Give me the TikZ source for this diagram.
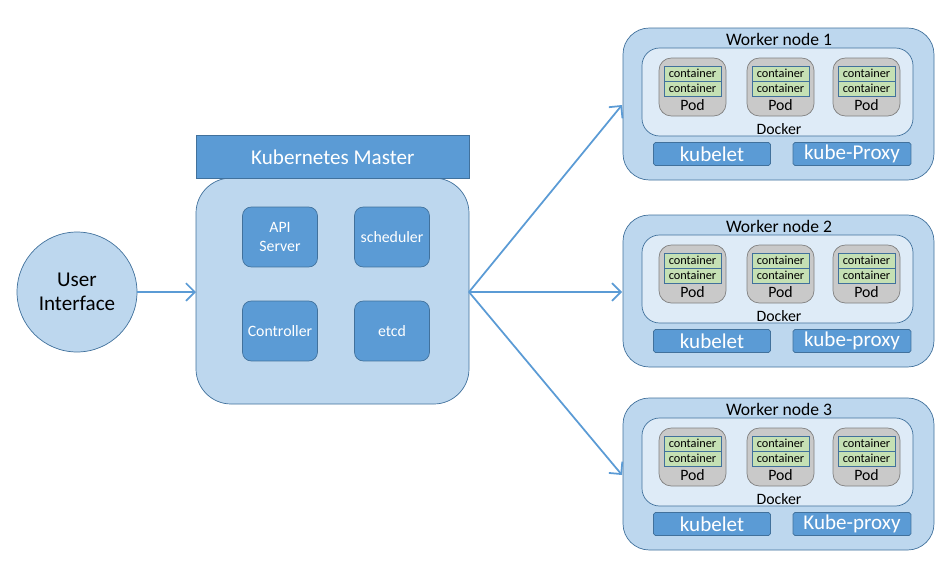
\documentclass[tikz,border=0pt]{standalone}
\usepackage{fontspec}
\setmainfont{Carlito}
\usetikzlibrary{arrows.meta,positioning}
\definecolor{darkblue}{HTML}{5B9BD5}
\definecolor{lightblue}{HTML}{BDD7EE}
\definecolor{paleblue}{HTML}{DEEBF7}
\definecolor{edgeblue}{HTML}{41719C}
\definecolor{podgray}{HTML}{C9C9C9}
\definecolor{cgreen}{HTML}{C5E0B4}
\tikzset{
  box/.style={draw=edgeblue,fill=darkblue,text=white,rounded corners=5pt,inner sep=0pt},
  panel/.style={draw=edgeblue,fill=lightblue,rounded corners=15pt},
  link/.style={-{Straight Barb[length=5pt]},color=darkblue,line width=1pt},
}
\begin{document}
\begin{tikzpicture}[x=0.02cm,y=-0.02cm]
\useasboundingbox (0,0) rectangle (951,575);

% user interface
\node[circle,draw=edgeblue,fill=lightblue,minimum size=2.4cm,align=center,font=\large] (ui) at (77,292) {User\\Interface};

% master
\draw[panel,rounded corners=20pt] (196,178) rectangle (469,404);
\node[draw=edgeblue,fill=darkblue,text=white,minimum width=5.46cm,minimum height=0.86cm,anchor=north west,font=\large] (master) at (196,135) {Kubernetes Master};
\node[box,minimum width=1.5cm,minimum height=1.2cm,align=center,font=\small] (api) at (280,237) {API\\Server};
\node[box,minimum width=1.5cm,minimum height=1.2cm,font=\small] (sched) at (392,237) {scheduler};
\node[box,minimum width=1.5cm,minimum height=1.2cm,font=\small] (ctrl) at (280,331) {Controller};
\node[box,minimum width=1.5cm,minimum height=1.2cm,font=\small] (etcd) at (392,331) {etcd};
\coordinate (mleft) at (196,292);
\coordinate (mright) at (469,292);

% worker nodes
\foreach \n/\y/\p in {1/28/kube-Proxy,2/215/kube-proxy,3/398/Kube-proxy}{
  \begin{scope}[shift={(623,\y)}]
    \draw[panel] (0,0) rectangle (311,152);
    \node[font=\normalsize] (title\n) at (156,11) {Worker node \n};
    \draw[draw=edgeblue,fill=paleblue,rounded corners=10pt] (19,20) rectangle (290,108);
    \node[font=\small] (docker\n) at (156,101) {Docker};
    \foreach \x in {36,124,210}{
      \draw[draw=gray,fill=podgray,rounded corners=7pt] (\x,30) rectangle ++(67,58);
      \draw[draw=edgeblue,fill=cgreen] (\x+5,38) rectangle ++(57,30);
      \draw[draw=edgeblue] (\x+5,53) -- ++(57,0);
      \node[font=\scriptsize,inner sep=0pt] at (\x+33.5,45.5) {container};
      \node[font=\scriptsize,inner sep=0pt] at (\x+33.5,60.5) {container};
      \node[font=\small] at (\x+33.5,77) {Pod};
    }
    \node[box,rounded corners=1pt,minimum width=2.34cm,minimum height=0.46cm,font=\large] (kubelet\n) at (89,126) {kubelet};
    \node[box,rounded corners=1pt,minimum width=2.36cm,minimum height=0.46cm,font=\large] (proxy\n) at (229,126) {\p};
    \coordinate (w\n) at (-1,77);
  \end{scope}
}

% connectors
\draw[link] (ui) -- (mleft);
\draw[link] (mright) -- (w1);
\draw[link] (mright) -- (w2);
\draw[link] (mright) -- (w3);

\end{tikzpicture}
\end{document}
